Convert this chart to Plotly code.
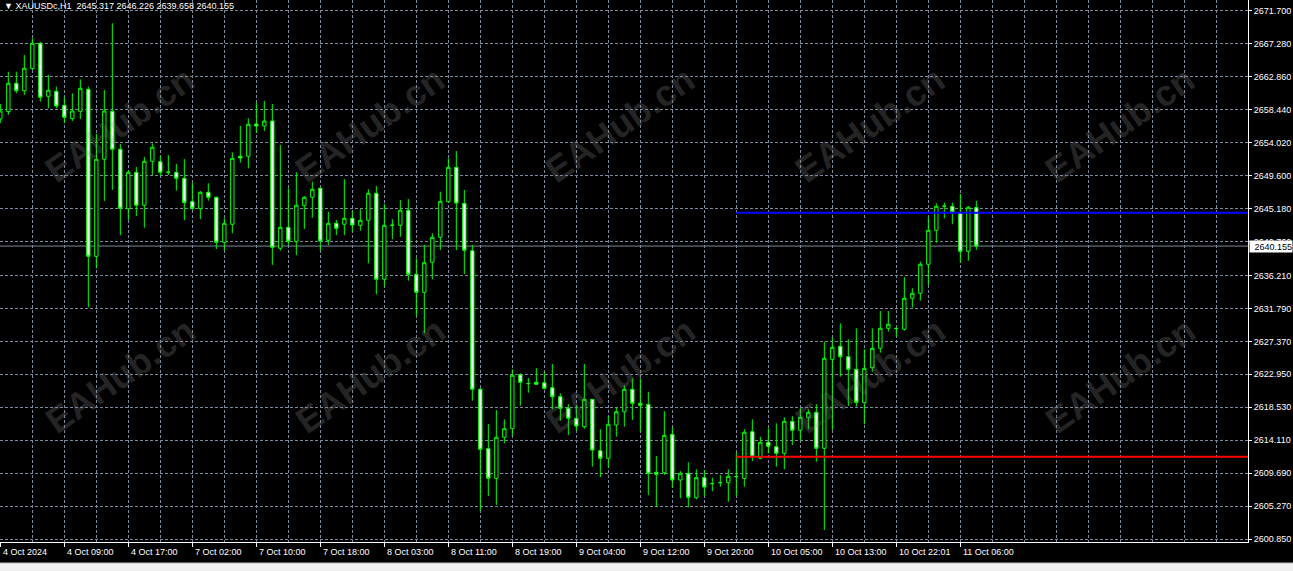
import plotly.graph_objects as go

# ---------------- data (XAUUSDc, H1) ----------------
opens = [
    2657.21, 2658.19, 2662.00, 2661.00, 2663.96, 2667.36, 2660.25, 2660.92, 2659.04, 2657.25,
    2658.24, 2661.19, 2638.78, 2651.80, 2658.24, 2653.14, 2645.17, 2650.05, 2645.63, 2651.53,
    2651.48, 2650.09, 2650.05, 2649.25, 2646.11, 2645.17, 2647.37, 2646.70, 2640.66, 2643.08,
    2652.20, 2652.20, 2656.53, 2656.27, 2656.94, 2639.86, 2642.67, 2640.74, 2645.57, 2646.70,
    2647.91, 2640.93, 2643.21, 2643.08, 2643.88, 2642.94, 2643.61, 2647.24, 2635.70, 2642.98,
    2642.94, 2644.96, 2636.37, 2633.95, 2637.98, 2641.33, 2646.11, 2650.72, 2645.89, 2639.53,
    2620.94, 2612.97, 2608.99, 2614.50, 2615.65, 2622.90, 2621.69, 2621.88, 2621.82, 2621.15,
    2619.94, 2618.39, 2617.05, 2615.92, 2619.59, 2612.70, 2611.68, 2616.15, 2617.93, 2620.94,
    2619.06, 2618.92, 2609.80, 2609.75, 2614.90, 2608.77, 2609.67, 2606.39, 2609.08, 2608.27,
    2608.40, 2608.40, 2609.21, 2608.99, 2615.25, 2611.68, 2613.83, 2613.23, 2612.35, 2616.64,
    2615.44, 2617.18, 2617.85, 2613.02, 2624.96, 2626.71, 2625.31, 2623.62, 2619.14, 2623.84,
    2626.44, 2629.12, 2629.07, 2628.99, 2633.15, 2633.82, 2637.71, 2642.27, 2645.49, 2645.49,
    2644.63, 2639.45, 2645.317,
]
highs = [
    2659.22, 2663.55, 2663.55, 2665.79, 2668.03, 2667.54, 2663.11, 2661.54, 2660.12, 2660.65,
    2662.53, 2661.54, 2655.19, 2661.10, 2670.05, 2653.85, 2650.27, 2650.77, 2652.11, 2653.94,
    2652.24, 2652.38, 2651.17, 2651.84, 2648.66, 2647.54, 2648.58, 2646.80, 2643.88, 2652.74,
    2656.27, 2657.30, 2659.35, 2659.62, 2659.22, 2653.72, 2647.91, 2650.05, 2646.87, 2648.79,
    2648.01, 2644.77, 2643.65, 2649.15, 2644.86, 2645.09, 2647.77, 2648.22, 2645.80, 2643.79,
    2646.34, 2646.47, 2638.51, 2640.30, 2641.87, 2647.45, 2651.93, 2652.91, 2647.68, 2640.30,
    2621.11, 2616.28, 2618.16, 2616.91, 2623.62, 2623.08, 2622.45, 2623.79, 2623.26, 2624.33,
    2620.40, 2618.96, 2618.74, 2624.33, 2619.63, 2615.57, 2617.35, 2618.52, 2621.47, 2622.41,
    2622.41, 2620.61, 2611.99, 2618.03, 2615.84, 2609.97, 2611.14, 2610.20, 2610.11, 2609.08,
    2609.44, 2610.20, 2612.43, 2615.57, 2616.91, 2614.58, 2615.70, 2616.37, 2617.18, 2617.35,
    2618.43, 2618.25, 2618.96, 2627.32, 2627.91, 2629.79, 2627.65, 2629.12, 2626.30, 2629.12,
    2631.44, 2631.44, 2629.34, 2635.97, 2634.49, 2638.06, 2644.02, 2645.89, 2645.98, 2645.98,
    2647.14, 2645.53, 2646.226,
]
lows = [
    2656.67, 2657.74, 2660.65, 2660.43, 2663.78, 2659.53, 2658.64, 2658.64, 2656.63, 2656.94,
    2657.21, 2631.94, 2637.17, 2646.20, 2647.68, 2641.64, 2643.65, 2644.19, 2642.62, 2649.69,
    2649.56, 2649.69, 2647.59, 2643.65, 2645.00, 2643.79, 2646.24, 2639.76, 2639.53, 2641.87,
    2651.34, 2650.59, 2655.33, 2655.60, 2637.62, 2639.53, 2640.30, 2638.96, 2642.45, 2643.96,
    2639.53, 2640.30, 2641.64, 2641.64, 2642.08, 2642.22, 2637.84, 2633.68, 2634.70, 2641.10,
    2641.41, 2635.51, 2630.81, 2628.45, 2635.70, 2639.63, 2645.98, 2639.63, 2636.41, 2619.41,
    2604.65, 2606.62, 2605.41, 2613.69, 2614.67, 2618.74, 2620.48, 2621.58, 2620.94, 2618.25,
    2616.72, 2614.80, 2615.38, 2615.65, 2610.55, 2609.13, 2610.42, 2614.58, 2615.92, 2616.82,
    2615.25, 2606.75, 2605.18, 2609.44, 2607.73, 2606.31, 2605.10, 2606.18, 2606.62, 2607.29,
    2607.87, 2605.85, 2606.62, 2607.87, 2611.32, 2611.54, 2612.35, 2610.55, 2610.20, 2613.46,
    2614.04, 2615.57, 2611.22, 2602.06, 2615.48, 2622.63, 2618.70, 2618.60, 2616.24, 2623.30,
    2625.85, 2628.67, 2627.99, 2628.80, 2631.89, 2632.83, 2634.93, 2640.61, 2643.88, 2643.08,
    2637.92, 2638.19, 2639.658,
]
closes = [
    2658.28, 2662.00, 2661.00, 2664.01, 2667.36, 2660.12, 2661.06, 2658.95, 2657.43, 2658.28,
    2661.32, 2638.78, 2651.80, 2658.28, 2653.14, 2645.22, 2650.05, 2645.63, 2651.53, 2653.41,
    2650.05, 2650.05, 2649.25, 2645.98, 2645.22, 2647.37, 2646.70, 2640.66, 2643.21, 2651.93,
    2651.97, 2656.49, 2656.27, 2656.94, 2639.99, 2642.67, 2640.84, 2645.63, 2646.70, 2647.77,
    2640.84, 2643.21, 2642.54, 2643.88, 2642.98, 2643.61, 2647.24, 2635.70, 2642.94, 2642.94,
    2644.96, 2636.37, 2633.95, 2637.92, 2641.33, 2646.16, 2650.72, 2645.93, 2639.59, 2620.94,
    2612.89, 2608.99, 2614.50, 2615.65, 2622.82, 2621.88, 2621.72, 2621.61, 2621.07, 2619.94,
    2618.39, 2617.05, 2616.01, 2619.59, 2612.79, 2611.68, 2616.24, 2617.93, 2620.94, 2619.06,
    2618.79, 2609.67, 2609.53, 2614.76, 2608.77, 2609.67, 2606.45, 2609.08, 2607.83, 2608.30,
    2608.43, 2609.26, 2609.24, 2615.17, 2611.89, 2613.83, 2613.29, 2612.35, 2616.64, 2615.44,
    2617.18, 2617.85, 2613.02, 2625.10, 2626.57, 2625.31, 2623.62, 2619.19, 2623.75, 2626.44,
    2629.12, 2629.66, 2629.10, 2633.15, 2633.82, 2637.71, 2642.27, 2645.49, 2645.52, 2644.73,
    2639.45, 2645.36, 2640.155,
]

time_label_bars = [0, 8, 16, 24, 32, 40, 48, 56, 64, 72, 80, 88, 96, 104, 112, 120]
time_labels = [
    "4 Oct 2024", "4 Oct 09:00", "4 Oct 17:00", "7 Oct 02:00", "7 Oct 10:00",
    "7 Oct 18:00", "8 Oct 03:00", "8 Oct 11:00", "8 Oct 19:00", "9 Oct 04:00",
    "9 Oct 12:00", "9 Oct 20:00", "10 Oct 05:00", "10 Oct 13:00", "10 Oct 22:01",
    "11 Oct 06:00",
]
price_ticks = [
    2600.85, 2605.27, 2609.69, 2614.11, 2618.53, 2622.95, 2627.37, 2631.79, 2636.21,
    2640.76, 2645.18, 2649.60, 2654.02, 2658.44, 2662.86, 2667.28, 2671.70,
]
symbol = "XAUUSDc,H1"
# horizontal levels: (price, first bar, colour)
level_prices = [2644.63, 2611.89]
level_start_bars = [92, 92]
level_colors = ["#0000ff", "#ff0000"]

# ---------------- styles ----------------
GRID = "#7b8a9c"
DASH = "3px,2px"
FONT = "Liberation Sans, Arial, sans-serif"
x_range = [-0.04, 155.96]
y_range = [2600.45, 2673.17]
PLOT_W, PLOT_H = 1248, 542

bars = list(range(len(opens)))

fig = go.Figure()
fig.add_trace(go.Candlestick(
    x=bars, open=opens, high=highs, low=lows, close=closes,
    increasing=dict(line=dict(color="#00ff00", width=1), fillcolor="#000000"),
    decreasing=dict(line=dict(color="#00ff00", width=1), fillcolor="#ffffff"),
    whiskerwidth=0, hoverinfo="skip",
))
for p, s, c in zip(level_prices, level_start_bars, level_colors):
    fig.add_trace(go.Scatter(x=[s, x_range[1]], y=[p, p], mode="lines",
                             line=dict(color=c, width=2), hoverinfo="skip"))

shapes = [
    # bid line
    dict(type="line", xref="paper", x0=0, x1=1, yref="y", y0=closes[-1], y1=closes[-1],
         line=dict(color="#778899", width=1), layer="below"),
    # bottom light strip
    dict(type="rect", xref="paper", x0=0, x1=1293 / PLOT_W, yref="paper",
         y0=-29 / PLOT_H, y1=-21 / PLOT_H, fillcolor="#f0f0f0",
         line=dict(width=0)),
    dict(type="line", xref="paper", x0=0, x1=1293 / PLOT_W, yref="paper",
         y0=-21 / PLOT_H, y1=-21 / PLOT_H, line=dict(color="#b8b8b8", width=1)),
]

annotations = []
for b, t in zip(time_label_bars, time_labels):
    annotations.append(dict(x=b, y=0, xref="x", yref="paper", text=t, showarrow=False,
                            xanchor="left", yanchor="top", xshift=1, yshift=-3,
                            font=dict(family=FONT, size=9, color="white")))

title = "▼ " + symbol + "\u00a0\u00a0" + " ".join(
    f"{v:.3f}" for v in (opens[-1], highs[-1], lows[-1], closes[-1]))
annotations.append(dict(x=0, y=1, xref="paper", yref="paper", text=title, showarrow=False,
                        xanchor="left", yanchor="top", xshift=2, yshift=1,
                        font=dict(family=FONT, size=9, color="white")))

annotations.append(dict(x=1, y=closes[-1], xref="paper", yref="y", text=f"{closes[-1]:.3f}",
                        showarrow=False, xanchor="left", yanchor="middle", xshift=1,
                        bgcolor="white", borderpad=0, width=42, height=11, align="right",
                        font=dict(family=FONT, size=9, color="black")))

# watermark
for row_y in (125, 375):
    for col_x in (120, 370, 620, 870, 1120):
        annotations.append(dict(x=col_x / PLOT_W, y=1 - row_y / PLOT_H, xref="paper", yref="paper",
                                text="<b>EAHub.cn</b>", showarrow=False, textangle=-35,
                                xanchor="center", yanchor="middle",
                                font=dict(family=FONT, size=36, color="rgba(128,128,128,0.30)")))

fig.update_layout(
    width=1293, height=571,
    margin=dict(l=0, r=45, t=0, b=29),
    paper_bgcolor="#000000", plot_bgcolor="#000000",
    showlegend=False, hovermode=False,
    font=dict(family=FONT, size=9, color="white"),
    boxgap=0.4,
    shapes=shapes, annotations=annotations,
    xaxis=dict(range=x_range, tickmode="array", tickvals=time_label_bars,
               ticktext=[""] * len(time_label_bars), ticks="outside", ticklen=4,
               tickcolor="white", showgrid=True, gridcolor=GRID, griddash=DASH, gridwidth=1,
               minor=dict(tickmode="linear", tick0=0, dtick=4, showgrid=True, gridcolor=GRID,
                          griddash=DASH, gridwidth=1, ticks=""),
               showline=True, linecolor="white", linewidth=1, zeroline=False,
               rangeslider=dict(visible=False), automargin=False, fixedrange=True),
    yaxis=dict(side="right", range=y_range, tickmode="array", tickvals=price_ticks,
               ticktext=[f"{v:.3f}" for v in price_ticks], ticks="outside", ticklen=3,
               tickcolor="white", showgrid=True, gridcolor=GRID, griddash=DASH, gridwidth=1,
               showline=True, linecolor="white", linewidth=1, zeroline=False,
               tickfont=dict(family=FONT, size=9, color="white"),
               automargin=False, fixedrange=True),
)

fig.write_html("out.html", config={"displayModeBar": False},
               post_script="document.body.style.margin='0';document.body.style.background='#000';")
